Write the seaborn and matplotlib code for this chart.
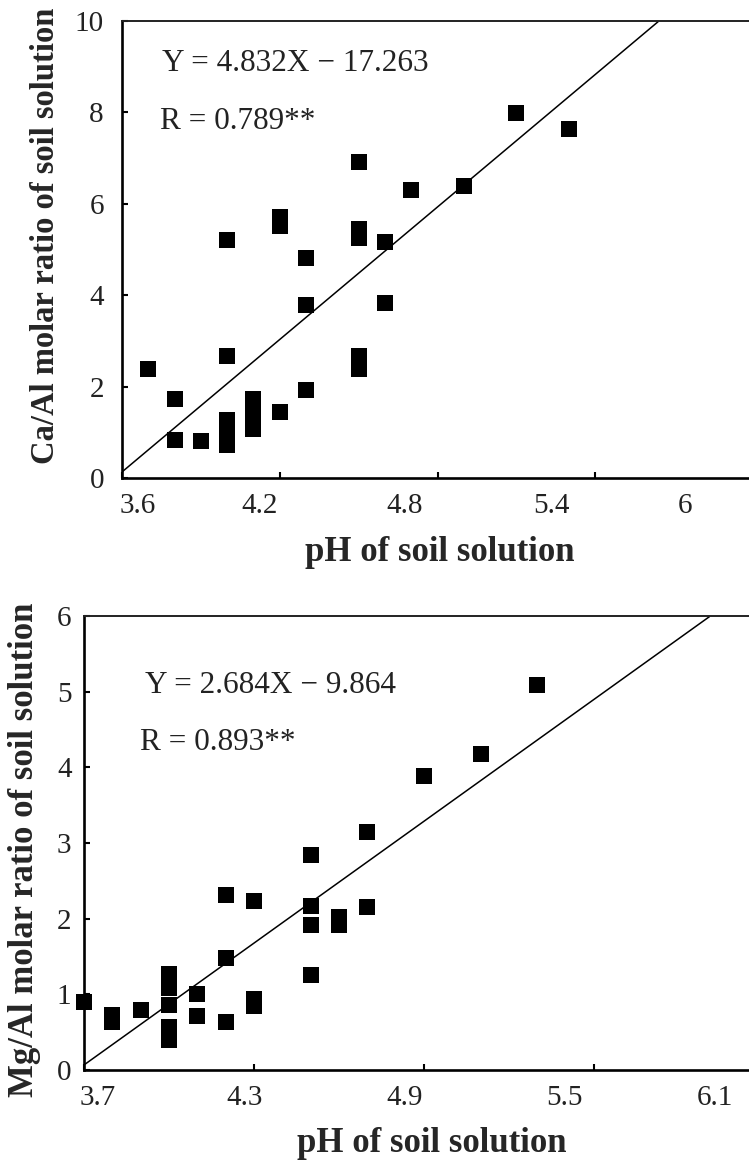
import numpy as np
import matplotlib
matplotlib.use("Agg")
import matplotlib.pyplot as plt
import seaborn as sns

# ---- data: soil-solution pH against Ca/Al and Mg/Al molar ratios ----
ph_ca = [3.7, 3.8, 3.8, 3.9, 4.0, 4.0, 4.0, 4.0, 4.0, 4.1, 4.1, 4.1, 4.2, 4.2, 4.2,
         4.3, 4.3, 4.3, 4.5, 4.5, 4.5, 4.5, 4.5, 4.6, 4.6, 4.7, 4.9, 5.1, 5.3]
ca_al = [2.39, 1.73, 0.83, 0.80, 5.21, 2.67, 1.28, 1.00, 0.72, 1.73, 1.40, 1.08, 5.72, 5.52, 1.45,
         4.81, 3.78, 1.92, 6.91, 5.45, 5.25, 2.66, 2.38, 5.17, 3.84, 6.30, 6.39, 7.99, 7.63]

ph_mg = [3.7, 3.8, 3.8, 3.9, 4.0, 4.0, 4.0, 4.0, 4.0, 4.1, 4.1, 4.2, 4.2, 4.2,
         4.3, 4.3, 4.3, 4.5, 4.5, 4.5, 4.5, 4.6, 4.6, 4.7, 4.7, 4.9, 5.1, 5.3]
mg_al = [0.90, 0.73, 0.64, 0.79, 1.27, 1.09, 0.86, 0.57, 0.39, 1.01, 0.71, 2.31, 1.48, 0.64,
         2.23, 0.94, 0.85, 2.84, 2.17, 1.91, 1.26, 2.02, 1.91, 3.14, 2.15, 3.89, 4.18, 5.09]

# regression lines and correlation coefficients
ca_slope, ca_intercept, ca_r = 4.832, -17.263, 0.789
mg_slope, mg_intercept, mg_r = 2.684, -9.864, 0.893

# axis scales and their labels
ca_xticks = [3.6, 4.2, 4.8, 5.4, 6.0]
ca_xticklabels = ["3.6", "4.2", "4.8", "5.4", "6"]
ca_yticks = [0, 2, 4, 6, 8, 10]
mg_xticks = [3.7, 4.3, 4.9, 5.5, 6.1]
mg_xticklabels = ["3.7", "4.3", "4.9", "5.5", "6.1"]
mg_yticks = [0, 1, 2, 3, 4, 5, 6]

# ---- layout (pixels of a 749 x 1161 canvas) ----
W, H = 749, 1161
# the value labels under each x axis drift left of their tick marks
ca_label_pos = [3.661, 4.125, 4.676, 5.235, 5.741]
mg_label_pos = [3.749, 4.265, 4.833, 5.394, 5.927]

sns.set_theme(style="white")
plt.rcParams["font.family"] = ["Liberation Serif", "DejaVu Serif"]

fig = plt.figure(figsize=(W / 100, H / 100), dpi=100)
fig.patch.set_facecolor("white")


def axes_px(left, top, right, bottom):
    return fig.add_axes([left / W, 1 - bottom / H, (right - left) / W, (bottom - top) / H])


def style_axes(ax, xlim, ylim, xticks, label_pos, labels, yticks, ytick_pad):
    ax.set_facecolor("white")
    ax.set_xlim(*xlim)
    ax.set_ylim(*ylim)
    for side in ("left", "bottom"):
        ax.spines[side].set_color("black")
        ax.spines[side].set_linewidth(1.9)
    ax.spines["top"].set_color("#222222")
    ax.spines["top"].set_linewidth(1.4)
    ax.spines["right"].set_visible(False)
    ax.set_xticks(xticks, labels=[""] * len(xticks))
    ax.set_xticks(label_pos, labels=labels, minor=True)
    ax.set_yticks(yticks, labels=[str(t) for t in yticks])
    ax.tick_params(axis="x", which="major", direction="in", length=4.5, width=1.5,
                   color="black", bottom=True)
    ax.tick_params(axis="x", which="minor", length=0, pad=11, labelsize=21,
                   labelcolor="#222222", bottom=True)
    ax.tick_params(axis="y", which="major", direction="in", length=4.5, width=1.5,
                   color="black", pad=ytick_pad, labelsize=21, labelcolor="#222222", left=True)
    ax.grid(False)


def draw_panel(ax, x, y, slope, intercept, xlim, ylim):
    sns.scatterplot(x=x, y=y, marker="s", s=135, color="black", linewidth=0, ax=ax,
                    zorder=3, clip_on=False)
    xs = np.linspace(xlim[0], xlim[1], 400)
    ys = slope * xs + intercept
    keep = (ys >= ylim[0]) & (ys <= ylim[1])
    sns.lineplot(x=xs[keep], y=ys[keep], color="black", linewidth=1.1, ax=ax,
                 estimator=None, sort=False, zorder=2)


def equation(slope, intercept):
    sign = "−" if intercept < 0 else "+"
    return f"Y = {slope:.3f}X {sign} {abs(intercept):.3f}"


# ---- top panel: Ca/Al ----
ax1 = axes_px(122, 21, 753, 478)
ca_xlim, ca_ylim = (3.6, 6.0), (0, 10)
style_axes(ax1, ca_xlim, ca_ylim, ca_xticks, ca_label_pos, ca_xticklabels, ca_yticks, 13)
draw_panel(ax1, ph_ca, ca_al, ca_slope, ca_intercept, ca_xlim, ca_ylim)
ax1.text(0.063, 0.907, equation(ca_slope, ca_intercept), transform=ax1.transAxes,
         fontsize=22.5, va="center", ha="left", color="#222222")
ax1.text(0.060, 0.781, f"R = {ca_r:.3f}**", transform=ax1.transAxes,
         fontsize=22.5, va="center", ha="left", color="#222222")
ax1.set_xlabel("pH of soil solution", fontsize=25, fontweight="bold", va="center")
ax1.xaxis.set_label_coords(0.504, -0.162)
ax1.set_ylabel("Ca/Al molar ratio of soil solution", fontsize=23.5, fontweight="bold",
               va="center")
ax1.yaxis.set_label_coords(-0.122, 0.53)

# ---- bottom panel: Mg/Al ----
ax2 = axes_px(84, 616, 764, 1070)
mg_xlim, mg_ylim = (3.7, 6.1), (0, 6)
style_axes(ax2, mg_xlim, mg_ylim, mg_xticks, mg_label_pos, mg_xticklabels, mg_yticks, 9)
draw_panel(ax2, ph_mg, mg_al, mg_slope, mg_intercept, mg_xlim, mg_ylim)
ax2.text(0.089, 0.846, equation(mg_slope, mg_intercept), transform=ax2.transAxes,
         fontsize=22.5, va="center", ha="left", color="#222222")
ax2.text(0.083, 0.721, f"R = {mg_r:.3f}**", transform=ax2.transAxes,
         fontsize=22.5, va="center", ha="left", color="#222222")
ax2.set_xlabel("pH of soil solution", fontsize=25, fontweight="bold", va="center")
ax2.xaxis.set_label_coords(0.511, -0.161)
ax2.set_ylabel("Mg/Al molar ratio of soil solution", fontsize=25, fontweight="bold",
               va="center")
ax2.yaxis.set_label_coords(-0.087, 0.486)

fig.savefig("out.png", dpi=100, facecolor="white")
